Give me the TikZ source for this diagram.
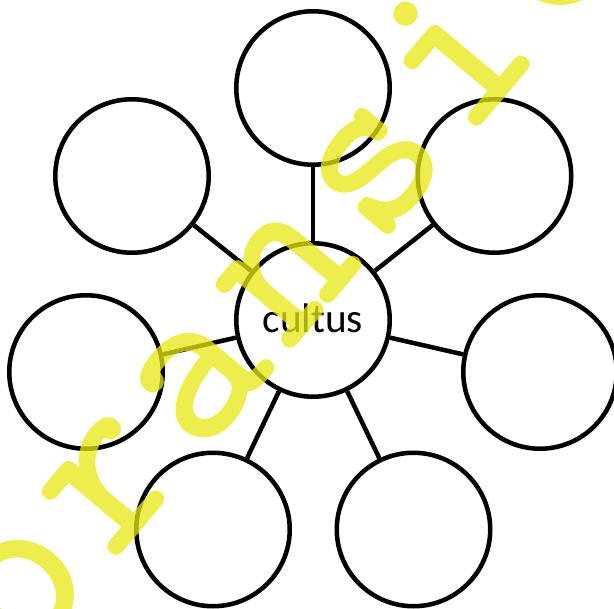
\documentclass[tikz,border=0pt]{standalone}
\usepackage{fontspec}
\newfontfamily\calfont{Carlito}
\newfontfamily\wmfont{Latin Modern Mono}[RawFeature={embolden=1.6}]
\definecolor{wmyellow}{RGB}{232,232,20}
\begin{document}
\begin{tikzpicture}[x=0.75pt,y=0.75pt,
  bubble/.style={circle,draw=black,line width=3.4pt,minimum size=115.1pt,inner sep=0pt,fill=white},
  link/.style={draw=black,line width=3.4pt},
  wm/.style={text=wmyellow,font=\wmfont\fontsize{172}{172}\selectfont,inner sep=0pt,anchor=base,rotate=50}]
\useasboundingbox (0,0) rectangle (614,-609);
\fill[white] (0,0) rectangle (614,-609);
\node[bubble] (c) at (313,-320) {};
\node[bubble] (t) at (313,-88) {};
\node[bubble] (tl) at (132,-176) {};
\node[bubble] (tr) at (494.5,-176) {};
\node[bubble] (l) at (86,-372) {};
\node[bubble] (r) at (540,-372) {};
\node[bubble] (bl) at (213,-529.5) {};
\node[bubble] (br) at (413.5,-529.5) {};
\foreach \n in {t,tl,tr,l,r,bl,br} \draw[link] (c) -- (\n);
\node[anchor=base,font=\calfont\fontsize{31}{31}\selectfont,inner sep=0pt] (lbl) at (313,-333) {cultus};
\begin{scope}[transparency group,opacity=0.75]
\foreach \ch [count=\k from 0] in {V,o,r,a,n,s,i,c,h,t}
  \node[wm] (w\k) at ({503.3+88.4*(\k-6)},{-95.6+105.2*(\k-6)}) {\ch};
\end{scope}
\end{tikzpicture}
\end{document}
